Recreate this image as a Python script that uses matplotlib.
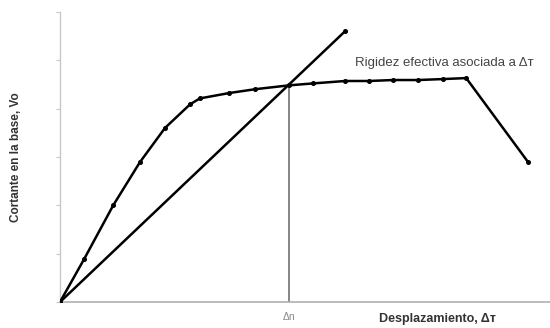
import matplotlib
matplotlib.use("Agg")
import matplotlib.pyplot as plt

# Pushover curve (arbitrary units)
curve_x = [0.0, 0.50, 1.10, 1.65, 2.17, 2.69, 2.89, 3.49, 4.03, 4.73, 5.23, 5.89, 6.38, 6.88, 7.40, 7.91, 8.39, 9.67]
curve_y = [0.0, 0.89, 2.00, 2.89, 3.60, 4.09, 4.21, 4.32, 4.40, 4.48, 4.52, 4.57, 4.57, 4.59, 4.59, 4.61, 4.63, 2.89]

# Effective stiffness secant line
secant_x = [0.0, 5.89]
secant_y = [0.0, 5.60]

# Target displacement
delta_t = 4.73
v_t = 4.48

x_max = 10.12
y_max = 6.0
y_ticks = [0, 1, 2, 3, 4, 5, 6]

plt.rcParams['font.family'] = ['Liberation Sans', 'DejaVu Sans']

fig = plt.figure(figsize=(5.5, 3.28), dpi=100)
ax = fig.add_axes([0.109, 0.079, 0.891, 0.885])

ax.plot(curve_x, curve_y, color='black', lw=1.8, marker='o', ms=2.6, zorder=3)
ax.plot(secant_x, secant_y, color='black', lw=1.8, marker='o', ms=2.6, markevery=[1], zorder=3)
ax.plot([delta_t, delta_t], [0, v_t], color='#666666', lw=1.1, zorder=2)

ax.set_xlim(0, x_max)
ax.set_ylim(0, y_max)

for s in ['top', 'right']:
    ax.spines[s].set_visible(False)
ax.spines['left'].set_color('#c8c8c8')
ax.spines['bottom'].set_color('#b0b0b0')
ax.spines['left'].set_linewidth(1.0)
ax.spines['bottom'].set_linewidth(1.2)

ax.set_yticks(y_ticks)
ax.set_yticklabels([])
ax.tick_params(axis='y', length=3, color='#c8c8c8', direction='out')
ax.set_xticks([delta_t])
ax.set_xticklabels(['Δn'], color='#888888', fontsize=7.5)
ax.tick_params(axis='x', length=0, pad=7)

ax.set_ylabel('Cortante en la base, Vo', fontsize=8.5, fontweight='bold', color='#333333')
ax.yaxis.set_label_coords(-0.078, 0.5)
ax.text(0.652, -0.058, 'Desplazamiento, Δт', transform=ax.transAxes, fontsize=9,
        fontweight='bold', color='#333333', ha='left', va='center')

ax.text(6.1, 4.95, 'Rigidez efectiva asociada a Δт', fontsize=9.5, color='#444444',
        ha='left', va='center')

fig.savefig('out.png', dpi=100)
